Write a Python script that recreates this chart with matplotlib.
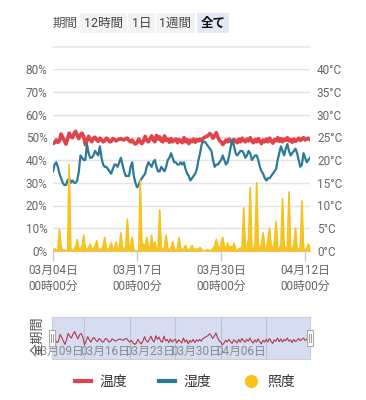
import matplotlib
matplotlib.use('Agg')
import matplotlib.pyplot as plt
import matplotlib.transforms as mtransforms
from matplotlib.lines import Line2D
from matplotlib.patches import Rectangle
import pandas as pd

plt.rcParams['font.family'] = ['Roboto', 'Noto Sans CJK JP', 'DejaVu Sans']

# ---------------- data (6-hourly samples) ----------------
start = '2024-03-04 00:00'
n_points = 160

temperature = [  # °C
    23.6, 23.8, 24.4, 23.9,  24.2, 25.7, 25.0, 24.2,  23.5, 24.6, 25.9, 25.2,
    24.9, 25.8, 26.3, 25.4,  24.7, 25.6, 25.9, 25.1,  23.4, 24.2, 25.2, 24.5,
    24.0, 24.8, 25.0, 24.4,  24.1, 24.8, 24.5, 24.0,  24.2, 24.8, 24.6, 24.0,
    24.1, 24.7, 24.5, 24.2,  24.4, 24.6, 24.7, 24.5,  24.4, 24.7, 24.8, 24.3,
    24.0, 24.4, 23.8, 23.5,  23.8, 24.6, 24.0, 23.6,  24.2, 25.2, 24.3, 24.0,
    24.6, 25.3, 24.4, 24.0,  25.4, 24.6, 25.1, 24.2,  24.0, 25.3, 24.3, 24.6,
    23.9, 24.7, 24.0, 24.4,  24.6, 23.8, 24.5, 24.2,  23.8, 24.9, 24.0, 24.5,
    23.6, 24.4, 24.0, 24.6,  23.9, 24.5, 24.2, 24.6,  24.2, 24.8, 25.0, 25.2,
    25.4, 25.8, 25.5, 24.8,  25.3, 26.0, 25.0, 24.3,  24.0, 23.4, 23.8, 24.4,
    24.0, 24.6, 24.1, 23.7,  24.5, 24.2, 23.8, 24.6,  24.0, 24.8, 24.3, 24.0,
    24.6, 24.2, 24.9, 24.1,  23.8, 24.5, 24.0, 24.7,  24.1, 23.6, 24.4, 24.0,
    24.6, 24.0, 24.8, 24.2,  23.7, 24.5, 24.2, 24.9,  24.1, 24.7, 24.0, 24.6,
    24.3, 24.9, 24.2, 24.5,  23.9, 24.6, 24.1, 24.4,  24.8, 24.3, 24.6, 24.9,
    24.4, 24.6, 24.8, 24.5,
]

humidity = [  # %
    35, 38, 39, 37,  34, 32, 30, 29,  29, 31, 32, 30,  31, 30, 30, 31,
    35, 42, 41, 40,  40, 47, 43, 41,  41, 42, 44, 43,  42, 46, 41, 38,
    37, 37, 36, 35,  34, 36, 38, 38,  37, 39, 41, 38,  35, 33, 33, 33,
    37, 39, 33, 30,  28, 29, 31, 32,  33, 34, 37, 39,  38, 37, 39, 40,
    37, 35, 35, 37,  36, 35, 37, 40,  41, 43, 41, 39,  39, 38, 38, 39,
    38, 39, 36, 34,  33, 31, 32, 33,  34, 36, 40, 43,  47, 48, 48, 47,
    46, 45, 44, 40,  37, 38, 38, 39,  40, 42, 40, 38,  39, 42, 46, 49,
    46, 43, 42, 43,  44, 44, 43, 41,  42, 44, 43, 40,  41, 42, 42, 40,
    37, 35, 34, 32,  31, 32, 32, 33,  34, 35, 36, 40,  43, 46, 44, 42,
    45, 47, 44, 42,  43, 44, 45, 43,  40, 37, 38, 43,  41, 39, 40, 41,
]

illuminance = [  # shown on the % scale
    0.5, 1, 0.5, 0.5,  9.5, 2, 0, 0.5,  0, 0.5, 38, 1,  0, 1, 2, 5,
    0.5, 1, 2, 7,  1, 0.5, 1.5, 3,  0.5, 1, 2, 4.5,  1, 0.5, 1, 2,
    6, 1, 0.5, 1.5,  3.5, 0.5, 1, 4,  0.5, 1.5, 8, 1,  0.5, 2, 14, 1,
    2, 6, 0.5, 0,  0, 0, 31, 2,  3, 1, 6, 2,  1, 7, 1, 4,
    0.5, 1, 18, 1,  0.5, 2, 7, 1,  0.5, 1, 4, 1,  0.5, 1, 6, 1,
    0.5, 1, 2.5, 0.5,  0.5, 1, 2.5, 0.5,  1, 0.5, 1, 1.5,  0.5, 0, 0, 0.5,
    0.5, 0, 0.5, 1,  2, 5, 2, 1,  3, 6, 2, 1,  3.5, 1, 2, 1,
    3.5, 1, 0, 1,  1, 2, 19, 1,  2, 5, 28, 1,  0.5, 4, 30, 2,
    1, 3, 8, 1,  0.5, 5, 10, 2,  1, 4, 13, 1,  0.5, 3, 23, 2,
    1, 2, 26, 1,  0.5, 3, 10, 1,  0.5, 2, 22, 1,  0.5, 1, 3, 2,
]

main_ticks = ['2024-03-04', '2024-03-17', '2024-03-30', '2024-04-12']
slider_ticks = ['2024-03-09', '2024-03-16', '2024-03-23', '2024-03-30', '2024-04-06']
left_ticks = [0, 10, 20, 30, 40, 50, 60, 70, 80]
right_ticks = [0, 5, 10, 15, 20, 25, 30, 35, 40]
buttons = ['12時間', '1日', '1週間', '全て']
series_names = ['温度', '湿度', '照度']

# ---------------- styling ----------------
C_TEMP = '#e0434a'
C_HUM = '#2b7a98'
C_LUX = '#f8c21c'
C_TXT = '#666666'

times = pd.date_range(start, periods=n_points, freq='6h')

W, H = 366, 400
fig = plt.figure(figsize=(W / 100, H / 100), dpi=100)
fig.patch.set_facecolor('white')

# main axes (pixels: x 53..310, y 69..251)
ax2 = fig.add_axes([53 / W, (H - 251) / H, 257 / W, 182 / H])
ax = ax2.twinx()
ax.xaxis.set_visible(True)
ax.yaxis.tick_left()
ax2.yaxis.tick_right()
ax.yaxis.set_label_position('left')
ax2.set_zorder(1)
ax.set_zorder(2)
ax.patch.set_visible(False)

ax2.set_ylim(0, 40)
ax.set_ylim(0, 80)
ax.set_xlim(times[0], times[-1])

ax2.set_yticks(right_ticks)
ax2.set_yticklabels([f'{v}°C' for v in right_ticks])
ax.set_yticks(left_ticks)
ax.set_yticklabels([f'{v}%' for v in left_ticks])
ax2.yaxis.grid(True, color='#e3e3e3', lw=1.0)
ax2.set_axisbelow(True)

for a in (ax, ax2):
    for s in a.spines.values():
        s.set_visible(False)
ax.spines['bottom'].set_visible(True)
ax.spines['bottom'].set_color('#cccccc')

ax.tick_params(axis='y', length=0, pad=4, labelsize=8.5, labelcolor=C_TXT)
ax2.tick_params(axis='y', length=0, pad=5, labelsize=8.5, labelcolor=C_TXT)
ax2.tick_params(axis='x', length=0, labelbottom=False)

tick_dates = pd.to_datetime(main_ticks)
ax.set_xticks(tick_dates)
ax.set_xticklabels([d.strftime('%m月%d日\n%H時%M分') for d in tick_dates],
                   linespacing=1.3)
ax.tick_params(axis='x', bottom=True, labelbottom=True, length=7, width=1,
               color='#cccccc', pad=2, labelsize=8.5, labelcolor=C_TXT)

# series
ax2.plot(times, temperature, color=C_TEMP, lw=2.6, solid_joinstyle='round', zorder=3)
ax.plot(times, humidity, color=C_HUM, lw=1.6, solid_joinstyle='round', zorder=3)
ax.fill_between(times, 0, illuminance, color=C_LUX, lw=0, zorder=4)
ax.plot(times, illuminance, color=C_LUX, lw=1.2, zorder=4)

# ---------------- top period buttons ----------------
pos = ax2.get_position()
ybtn = 1 - 23 / H
fig.text(pos.x0, ybtn, '期間', ha='left', va='center', fontsize=9, color='#555555')
btn_x = [103.5, 141.5, 175.5, 213]
for label, bx in zip(buttons, btn_x):
    active = label == '全て'
    fig.text(bx / W, ybtn, label, ha='center', va='center', fontsize=9,
             color='#111111' if active else '#444444',
             fontweight='bold' if active else 'normal',
             bbox=dict(boxstyle='square,pad=0.3',
                       fc='#e3e9f7' if active else '#f3f3f3', ec='none'))
fig.add_artist(Line2D([pos.x0, pos.x1], [1 - 47 / H] * 2, color='#e9e9e9', lw=1.3))

# ---------------- data zoom slider ----------------
axs = fig.add_axes([52 / W, (H - 359) / H, 258 / W, 42 / H])
axs.set_facecolor('#d6ddf0')
for s in axs.spines.values():
    s.set_color('#c9cfe0')
    s.set_linewidth(0.8)
axs.set_xlim(times[0], times[-1])
axs.set_ylim(20.3, 29.5)
axs.set_xticks([])
axs.set_yticks([])
sl_dates = pd.to_datetime(slider_ticks)
for d in sl_dates:
    axs.axvline(d, color='#bcc3d8', lw=0.8, zorder=1)
axs.plot(times, temperature, color='#b23a4a', lw=0.8, zorder=2)
trans = mtransforms.blended_transform_factory(axs.transData, axs.transAxes)
for d in sl_dates:
    axs.text(d, 0.19, d.strftime('%m月%d日'), transform=trans, ha='right',
             va='center', fontsize=8.5, color='#8a8a8a', zorder=3, clip_on=False)

spos = axs.get_position()
hw, hh = 6 / W, 16 / H
hy = 1 - 346 / H
for hx in (spos.x0, spos.x1):
    fig.add_artist(Rectangle((hx - hw / 2, hy), hw, hh, transform=fig.transFigure,
                             fc='white', ec='#a8a8a8', lw=0.8, zorder=5))
    for dx in (-1 / W, 1 / W):
        fig.add_artist(Line2D([hx + dx, hx + dx], [hy + 4 / H, hy + hh - 4 / H],
                              color='#999999', lw=0.7, zorder=6))

fig.text(38 / W, 1 - 336 / H, '全期間', rotation=90, ha='center', va='center',
         fontsize=9.5, color='#555555', zorder=7)

# ---------------- legend ----------------
handles = [
    Line2D([], [], color=C_TEMP, lw=3),
    Line2D([], [], color=C_HUM, lw=3),
    Line2D([], [], color=C_LUX, lw=0, marker='o', markersize=8.5),
]
leg = fig.legend(handles, series_names, loc='center', bbox_to_anchor=(0.505, 1 - 382 / H),
                 ncol=3, frameon=False, fontsize=10, handlelength=1.15,
                 columnspacing=2.3, handletextpad=0.6)
for t in leg.get_texts():
    t.set_color('#333333')

fig.savefig('out.png', dpi=100, facecolor='white')
